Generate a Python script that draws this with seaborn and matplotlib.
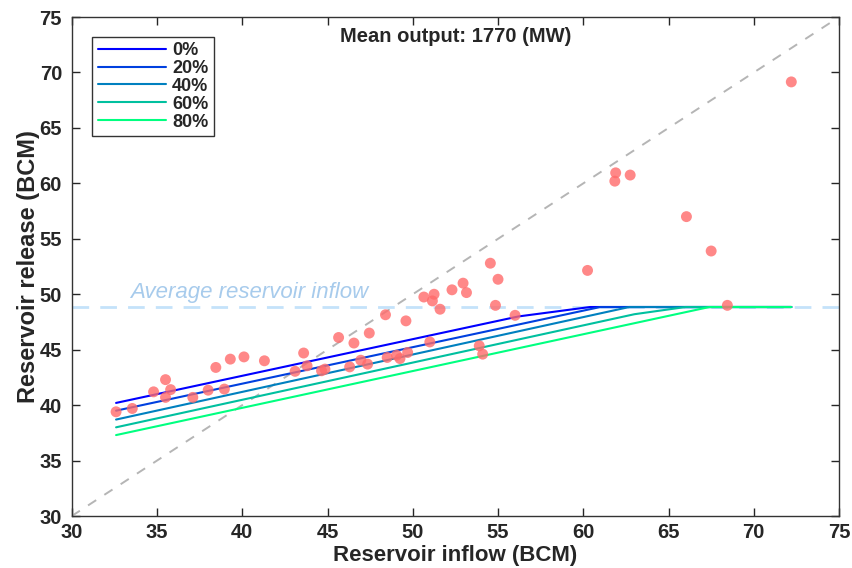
import numpy as np
import pandas as pd
import matplotlib
matplotlib.use('Agg')
import matplotlib.pyplot as plt
import seaborn as sns

# observed (inflow, release) pairs in BCM
inflow = [32.6, 33.55, 34.8, 35.5, 35.8, 35.5, 37.1, 38.0, 38.95, 38.45,
          39.3, 40.1, 41.3, 43.1, 43.6, 43.8, 44.65, 44.85, 45.65, 46.55,
          47.45, 46.3, 46.95, 47.35, 48.4, 49.6, 48.5, 49.05, 49.25, 49.7,
          51.0, 53.9, 54.1, 56.0, 51.6, 50.65, 51.25, 51.15, 52.3, 52.95,
          53.15, 54.55, 55.0, 54.85, 60.25, 61.85, 61.9, 62.75, 66.05, 67.5,
          68.45, 72.2]
release = [39.4, 39.7, 41.2, 42.3, 41.4, 40.7, 40.7, 41.35, 41.45, 43.4,
           44.15, 44.35, 44.0, 43.05, 44.7, 43.55, 43.1, 43.25, 46.1, 45.6,
           46.5, 43.45, 44.05, 43.7, 48.15, 47.6, 44.3, 44.5, 44.2, 44.75,
           45.7, 45.35, 44.6, 48.1, 48.65, 49.75, 50.0, 49.4, 50.4, 51.0,
           50.15, 52.8, 51.35, 49.0, 52.15, 60.2, 60.95, 60.75, 57.0, 53.9,
           49.0, 69.15]

avg_inflow = 48.85

# release curves for each level
levels = ['0%', '20%', '40%', '60%', '80%']
curve_x = {
    '0%':  [32.6, 56.2, 60.4, 72.2],
    '20%': [32.6, 61.0, 72.2],
    '40%': [32.6, 62.7, 72.2],
    '60%': [32.6, 63.0, 66.0, 72.2],
    '80%': [32.6, 67.4, 72.2],
}
curve_y = {
    '0%':  [40.2, 48.0, 48.85, 48.85],
    '20%': [39.5, 48.85, 48.85],
    '40%': [38.7, 48.85, 48.85],
    '60%': [38.0, 48.2, 48.85, 48.85],
    '80%': [37.3, 48.85, 48.85],
}

curves = pd.concat([
    pd.DataFrame({'inflow': curve_x[k], 'release': curve_y[k], 'level': k})
    for k in levels
], ignore_index=True)
obs = pd.DataFrame({'inflow': inflow, 'release': release})

sns.set_style('ticks')
plt.rcParams['font.family'] = ['Liberation Sans', 'DejaVu Sans']

fig = plt.figure(figsize=(8.52, 5.68), dpi=100)
ax = fig.add_axes([0.0842, 0.0915, 0.9006, 0.8785])

# reference lines
ax.plot([30, 75], [30, 75], color='#b5b5b5', lw=1.4, dashes=(5, 5), zorder=1)
ax.axhline(avg_inflow, color='#c4e2fa', lw=2, dashes=(6, 4), zorder=1)
ax.text(33.4, 50.2, 'Average reservoir inflow', color='#a7cbec',
        fontsize=16, style='italic', va='center', ha='left')

pal = [plt.cm.winter(v) for v in np.linspace(0, 1, len(levels))]
sns.lineplot(data=curves, x='inflow', y='release', hue='level',
             hue_order=levels, palette=pal, sort=False, estimator=None,
             lw=1.5, ax=ax, zorder=3)

sns.scatterplot(data=obs, x='inflow', y='release', color='#ff6b6b',
                alpha=0.8, s=62, edgecolor='none', ax=ax, zorder=4)

ax.set_xlim(30, 75)
ax.set_ylim(30, 75)
ax.set_xticks(np.arange(30, 76, 5))
ax.set_yticks(np.arange(30, 76, 5))
ax.tick_params(direction='in', top=True, right=True, length=5.5, width=1,
               labelsize=14.5)
ax.tick_params(axis='x', pad=5)
ax.tick_params(axis='y', pad=7)
for lab in ax.get_xticklabels() + ax.get_yticklabels():
    lab.set_fontweight('bold')
for sp in ax.spines.values():
    sp.set_linewidth(1)
    sp.set_color('#333333')

ax.set_xlabel('Reservoir inflow (BCM)', fontsize=16, fontweight='bold', labelpad=2)
ax.set_ylabel('Reservoir release (BCM)', fontsize=17, fontweight='bold', labelpad=0)
ax.text(0.5, 0.962, 'Mean output: 1770 (MW)', transform=ax.transAxes,
        ha='center', va='center', fontsize=14.5, fontweight='bold')

handles, labels = ax.get_legend_handles_labels()
handles = [h for h, l in zip(handles, labels) if l in levels]
leg = ax.legend(handles, levels, loc='upper left', bbox_to_anchor=(0.027, 0.961),
                borderaxespad=0, prop={'weight': 'bold', 'size': 13},
                handlelength=3.8, labelspacing=0.05, handletextpad=0.3,
                borderpad=0.3, fancybox=False, framealpha=1,
                edgecolor='#333333')
leg.get_frame().set_linewidth(1)

fig.savefig('out.png', dpi=100)
